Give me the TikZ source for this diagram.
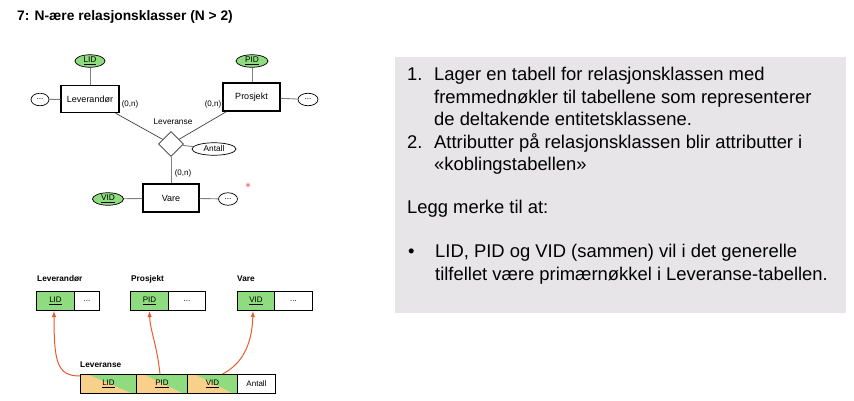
\documentclass[tikz,border=0pt]{standalone}
\usepackage{fontspec}
\setmainfont{Liberation Sans}
\usetikzlibrary{shapes.geometric,arrows.meta}
\definecolor{keygreen}{HTML}{8FDB7F}
\definecolor{fkorange}{HTML}{F8D08A}
\definecolor{fkred}{HTML}{E85A2E}
\definecolor{panelgray}{HTML}{E7E5E8}
\begin{document}
\begin{tikzpicture}[x=1pt,y=-1pt,
  erfont/.style={font=\fontsize{8.3}{10}\selectfont},
  entity/.style={draw=black, line width=1.3pt, minimum width=58pt, minimum height=27pt, inner sep=0, font=\fontsize{9}{10}\selectfont},
  attr/.style={ellipse, draw=black, line width=0.7pt, inner sep=0, minimum height=12.5pt, erfont},
  keyattr/.style={attr, fill=keygreen},
  rel/.style={diamond, draw=black!80, line width=0.8pt, minimum width=25pt, minimum height=25pt, inner sep=0},
  eline/.style={draw=black!75, line width=0.7pt},
  aline/.style={draw=black!50, line width=0.9pt},
  card/.style={font=\fontsize{8}{9}\selectfont, inner sep=0},
  cell/.style={draw=black, line width=1pt, minimum height=19pt, inner sep=0, anchor=north west, font=\fontsize{8}{9}\selectfont},
  splitcell/.style={cell, fill=fkorange, path picture={
      \fill[keygreen] ([xshift=8pt]path picture bounding box.north west) -- (path picture bounding box.north east) -- (path picture bounding box.south east) -- ([xshift=-4pt]path picture bounding box.south east) -- cycle;}},
  tlabel/.style={font=\bfseries\fontsize{8.3}{9}\selectfont, anchor=base west, inner sep=0},
  fk/.style={-{Latex[length=6pt,width=4.5pt]}, draw=fkred, line width=1pt},
  ptext/.style={font=\fontsize{18.4}{22}\selectfont, anchor=base west, inner sep=0}
]
\useasboundingbox (0,0) rectangle (854,400);

% title
\node[anchor=base west, inner sep=0, font=\bfseries\fontsize{13.8}{15}\selectfont] (title) at (17,20.5) {7: N-ære relasjonsklasser (N > 2)};

% ER diagram
\node[keyattr, minimum width=30pt] (lid) at (90,61) {\underline{LID}};
\node[entity] (lev) at (90,99) {Leverandør};
\node[attr, minimum width=18pt] (levdots) at (40,99.5) {...};
\node[entity, minimum width=57pt, minimum height=28pt] (pro) at (251.5,97) {Prosjekt};
\node[keyattr, minimum width=32pt] (pid) at (252,61) {\underline{PID}};
\node[attr, minimum width=20pt] (prodots) at (308,99.5) {...};
\node[rel] (dia) at (171,144) {};
\node[erfont, inner sep=0] (relname) at (173,122) {Leveranse};
\node[attr, minimum width=44pt] (antall) at (214,149) {Antall};
\node[entity, minimum width=56pt, minimum height=28pt] (vare) at (171,198) {Vare};
\node[keyattr, minimum width=31pt] (vid) at (108,199) {\underline{VID}};
\node[attr, minimum width=19pt] (varedots) at (228,199) {...};
\node[card] (c1) at (130,104) {(0,n)};
\node[card] (c2) at (213,104) {(0,n)};
\node[card] (c3) at (183,173) {(0,n)};

\draw[aline] (lid) -- (lev);
\draw[aline] (levdots) -- (lev);
\draw[aline] (pid.south) -- (pid.south |- pro.north);
\draw[aline] (pro) -- (prodots);
\draw[eline] (lev) -- (dia);
\draw[eline] (pro) -- (dia);
\draw[aline] (dia) -- (antall);
\draw[aline] (dia) -- (vare);
\draw[aline] (vid) -- (vare);
\draw[aline] (vare) -- (varedots);

\node[circle, fill=red!55, draw=red!20, line width=1pt, inner sep=0, minimum size=4pt] (dot) at (248,185) {};

% relational tables
\node[tlabel] (lLev) at (37,281) {Leverandør};
\node[cell, fill=keygreen, minimum width=38pt] (tlid) at (36,291) {\underline{LID}};
\node[cell, minimum width=25pt] (tlevdots) at (74,291) {...};

\node[tlabel] (lPro) at (131,281) {Prosjekt};
\node[cell, fill=keygreen, minimum width=38pt] (tpid) at (130,291) {\underline{PID}};
\node[cell, minimum width=37pt] (tprodots) at (168,291) {...};

\node[tlabel] (lVare) at (237,281) {Vare};
\node[cell, fill=keygreen, minimum width=37pt] (tvid) at (237,291) {\underline{VID}};
\node[cell, minimum width=38pt] (tvaredots) at (274,291) {...};

\node[tlabel] (lLevr) at (80,367) {Leveranse};
\node[splitcell, minimum width=56pt] (clid) at (80,374) {\underline{LID}};
\node[splitcell, minimum width=51pt] (cpid) at (136,374) {\underline{PID}};
\node[splitcell, minimum width=50pt] (cvid) at (187,374) {\underline{VID}};
\node[cell, minimum width=38pt] (cant) at (237,374) {Antall};

\draw[fk] ([yshift=-2pt]clid.north west) .. controls (57,376) and (54,362) .. ([xshift=-1.5pt]tlid.south);
\draw[fk] ([xshift=-2pt]cpid.north) .. controls (157,345) and (150,330) .. (tpid.south);
\draw[fk] ([xshift=10pt]cvid.north) .. controls (242,364) and (252,345) .. ([xshift=-3pt]tvid.south);

% text panel
\node[fill=panelgray, anchor=north west, minimum width=451pt, minimum height=256pt, inner sep=0] (panel) at (395,57) {};
\node[ptext] (n1) at (407,80.5) {1.};
\node[ptext] (t1a) at (434,80.5) {Lager en tabell for relasjonsklassen med};
\node[ptext] (t1b) at (434,103) {fremmednøkler til tabellene som representerer};
\node[ptext] (t1c) at (434,125.5) {de deltakende entitetsklassene.};
\node[ptext] (n2) at (407,148) {2.};
\node[ptext] (t2a) at (434,148) {Attributter på relasjonsklassen blir attributter i};
\node[ptext] (t2b) at (434,170.5) {«koblingstabellen»};
\node[ptext] (legg) at (407,213) {Legg merke til at:};
\node[ptext] (bul) at (408,257.5) {•};
\node[ptext] (t3a) at (435,257.5) {LID, PID og VID (sammen) vil i det generelle};
\node[ptext] (t3b) at (435,280) {tilfellet være primærnøkkel i Leveranse-tabellen.};
\end{tikzpicture}
\end{document}
